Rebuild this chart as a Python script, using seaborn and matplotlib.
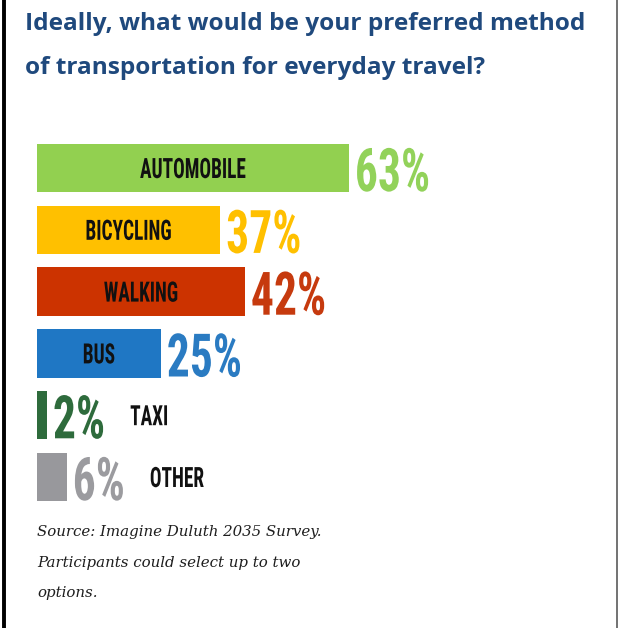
import os
import matplotlib
matplotlib.use("Agg")
import matplotlib.pyplot as plt
from matplotlib import font_manager as fm
from matplotlib.lines import Line2D
from matplotlib.patheffects import AbstractPathEffect
from matplotlib.transforms import Affine2D
import seaborn as sns
import pandas as pd

# Survey results: preferred everyday travel mode (share of participants, %)
modes = ["AUTOMOBILE", "BICYCLING", "WALKING", "BUS", "TAXI", "OTHER"]
shares = [63, 37, 42, 25, 2, 6]
bar_colors = ["#92D050", "#FFC000", "#CC3300", "#1F77C4", "#2E6B3C", "#98989C"]
pct_colors = ["#92D25A", "#FFC000", "#C63A0E", "#2A7BC2", "#2E6B3C", "#9B9B9F"]
label_inside = [True, True, True, True, False, False]

title_lines = ["Ideally, what would be your preferred method",
               "of transportation for everyday travel?"]
note_lines = ["Source: Imagine Duluth 2035 Survey.",
              "Participants could select up to two",
              "options."]

W, H, DPI = 618, 628, 100


def condensed_bold():
    """Pick a condensed bold face for the bar labels, if one is installed."""
    prefs = ["NotoSans-ExtraCondensedBold", "NotoSans-CondensedBold",
             "RobotoCondensed-Bold", "OpenSans-CondensedBold",
             "LiberationSansNarrow-Bold", "DejaVuSansCondensed-Bold"]
    files = {os.path.splitext(os.path.basename(f.fname))[0]: f.fname
             for f in fm.fontManager.ttflist}
    for p in prefs:
        if p in files:
            return fm.FontProperties(fname=files[p]), 1.0
    for name, path in files.items():
        low = name.lower()
        if ("condensed" in low or "narrow" in low) and "bold" in low and "italic" not in low:
            return fm.FontProperties(fname=path), 0.85
    return fm.FontProperties(family="DejaVu Sans", weight="bold"), 0.6


class Squeeze(AbstractPathEffect):
    """Narrow a text's glyphs horizontally about its anchor point."""

    def __init__(self, text, sx):
        super().__init__()
        self.text = text
        self.sx = sx

    def draw_path(self, renderer, gc, tpath, affine, rgbFace=None):
        bb = self.text.get_window_extent(renderer)
        ha = self.text.get_horizontalalignment()
        if ha == "left":
            anchor = bb.x0
        elif ha == "center":
            anchor = 0.5 * (bb.x0 + bb.x1)
        else:
            anchor = bb.x1
        sq = Affine2D().translate(-anchor, 0).scale(self.sx, 1).translate(anchor, 0)
        renderer.draw_path(gc, tpath, affine + sq, rgbFace)


cond_fp, scale = condensed_bold()
squeeze_pct = min(0.76 / scale, 1.0)
squeeze_lab = min(0.69 / scale, 1.0)


def px2pt(px):
    return px * 72.0 / DPI


fig = plt.figure(figsize=(W / DPI, H / DPI), dpi=DPI)
fig.patch.set_facecolor("white")

# bar area: 0% at x=37px, ~4.95 px per percentage point
x0, px_per_pct = 37, 4.95
row_top, row_step = 168, 61.8
ax_top = row_top - row_step / 2
ax_bot = row_top + row_step * 5.5
ax = fig.add_axes([x0 / W, 1 - ax_bot / H, 100 * px_per_pct / W, (ax_bot - ax_top) / H])

df = pd.DataFrame({"mode": modes, "share": shares})
sns.barplot(data=df, x="share", y="mode", hue="mode", palette=bar_colors,
            orient="h", width=0.78, saturation=1, linewidth=0, legend=False, ax=ax)
ax.set_xlim(0, 100)
ax.set_ylim(5.5, -0.5)
ax.axis("off")

bar_half_px = 0.78 * row_step / 2
pct_size = px2pt(60)
lab_size = px2pt(28)
lab_cap = 20
pct_gap = 6

pct_texts = []
for i, (m, v) in enumerate(zip(modes, shares)):
    t = ax.annotate(f"{v}%", xy=(v, i), xycoords="data",
                    xytext=(pct_gap, -bar_half_px + 1), textcoords="offset pixels",
                    ha="left", va="baseline", fontproperties=cond_fp,
                    fontsize=pct_size, color=pct_colors[i])
    t.set_path_effects([Squeeze(t, squeeze_pct)])
    pct_texts.append(t)
    if label_inside[i]:
        lt = ax.annotate(m, xy=(v / 2, i), xycoords="data",
                         xytext=(0, -lab_cap / 2), textcoords="offset pixels",
                         ha="center", va="baseline", fontproperties=cond_fp,
                         fontsize=lab_size, color="#111111")
        lt.set_path_effects([Squeeze(lt, squeeze_lab)])

fig.canvas.draw()
renderer = fig.canvas.get_renderer()
for i, (m, v) in enumerate(zip(modes, shares)):
    if not label_inside[i]:
        w = pct_texts[i].get_window_extent(renderer).width * squeeze_pct
        lt = ax.annotate(m, xy=(v, i), xycoords="data",
                         xytext=(pct_gap + w + 25, -lab_cap / 2), textcoords="offset pixels",
                         ha="left", va="baseline", fontproperties=cond_fp,
                         fontsize=lab_size, color="#111111")
        lt.set_path_effects([Squeeze(lt, squeeze_lab)])

# title
for k, line in enumerate(title_lines):
    fig.text(25 / W, 1 - (30 + 44 * k) / H, line, ha="left", va="baseline",
             family="Open Sans", fontweight="bold", fontsize=17.6, color="#1F497D")

# source note
for k, line in enumerate(note_lines):
    fig.text(37 / W, 1 - (536 + 30.5 * k) / H, line, ha="left", va="baseline",
             family="DejaVu Serif", style="italic", fontsize=10.8, color="#1E1E1E")

# frame edges
fig.add_artist(Line2D([4 / W, 4 / W], [0, 1], transform=fig.transFigure,
                      color="black", lw=2.8))
fig.add_artist(Line2D([616.5 / W, 616.5 / W], [0, 1], transform=fig.transFigure,
                      color="#5a5a5a", lw=1.2))

fig.savefig("out.png", dpi=DPI, facecolor="white")
